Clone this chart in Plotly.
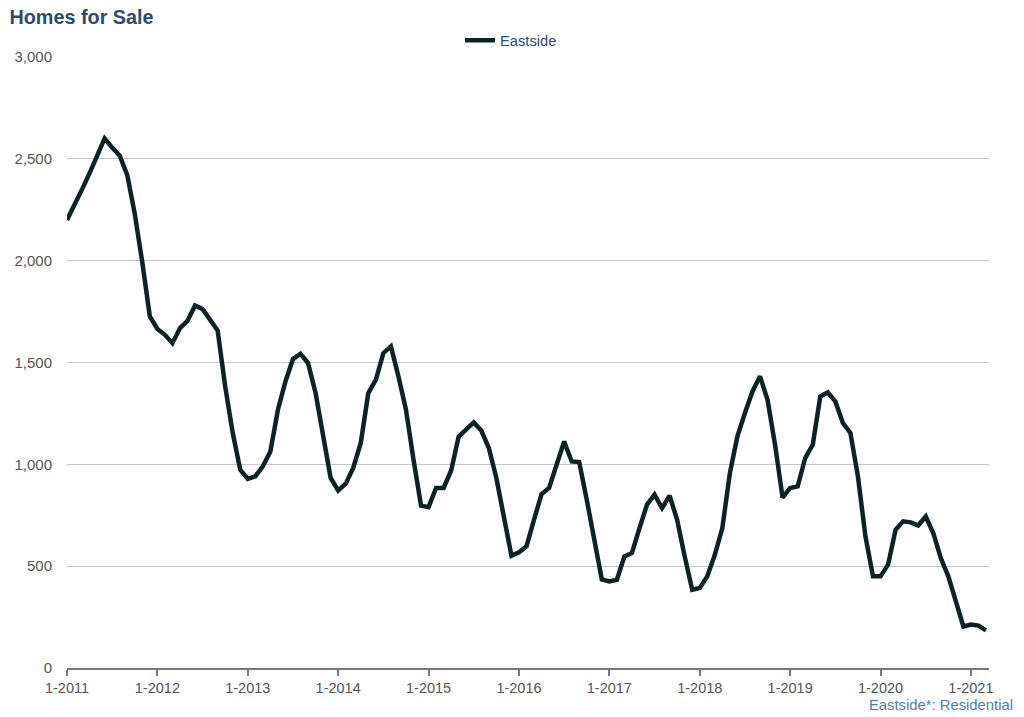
import plotly.graph_objects as go

years = list(range(2011, 2022))
tick_labels = [f"1-{y}" for y in years]

# Monthly values, Jan 2011 .. Mar 2021
values = [
    2200, 2270, 2350, 2430, 2515, 2600, 2555, 2515, 2420, 2230, 1990, 1726,
    1665, 1636, 1595, 1669, 1705, 1780, 1762, 1710, 1657, 1382, 1155, 973,
    929, 941, 990, 1063, 1268, 1407, 1517, 1543, 1497, 1350, 1154, 933,
    872, 905, 982, 1105, 1350, 1415, 1546, 1579, 1432, 1268, 1023, 797,
    790, 884, 884, 970, 1137, 1173, 1206, 1166, 1080, 933, 728, 551,
    568, 597, 728, 854, 884, 1006, 1112, 1014, 1011, 826, 630, 435,
    425, 433, 548, 565, 687, 802, 851, 785, 846, 728, 548, 384,
    393, 450, 556, 687, 957, 1137, 1252, 1358, 1432, 1317, 1096, 836,
    884, 892, 1031, 1096, 1333, 1353, 1309, 1203, 1154, 941, 646, 450,
    450, 507, 679, 720, 715, 700, 744, 663, 540, 450, 327, 204,
    213, 208, 185,
]
months = list(range(len(values)))

W, H = 1024, 717

fig = go.Figure()
fig.add_trace(go.Scatter(
    x=months, y=values, mode="lines", name="Eastside",
    line=dict(color="#0b2227", width=4.5),
))

fig.update_layout(
    width=W, height=H,
    paper_bgcolor="white", plot_bgcolor="white",
    margin=dict(l=67, r=35, t=57, b=49, autoexpand=False),
    font=dict(family="Liberation Sans, Arial, sans-serif", size=15, color="#555555"),
    title=dict(text="<b>Homes for Sale</b>", xref="container", x=9.5 / W, xanchor="left",
               yref="container", y=1 - 16.7 / H, yanchor="middle",
               font=dict(size=19.8, color="#2b4c6f")),
    showlegend=True,
    legend=dict(orientation="h", xref="container", x=460 / W, xanchor="left",
                yref="container", y=1 - 40.7 / H, yanchor="middle",
                font=dict(size=14.7, color="#2b4c6f"), bgcolor="rgba(0,0,0,0)"),
    annotations=[dict(text="Eastside*: Residential", xref="paper", yref="paper",
                      x=1.028, xanchor="right", y=-0.060, yanchor="middle", showarrow=False,
                      font=dict(size=14.8, color="#4f7db5"))],
)
fig.update_xaxes(
    range=[0, 122.4], tickvals=[12 * i for i in range(len(years))], ticktext=tick_labels,
    showgrid=False, zeroline=False, showline=True, linecolor="#777777", linewidth=2,
    ticks="outside", ticklen=6, tickcolor="#777777", tickwidth=2,
    ticklabelstandoff=0, tickfont=dict(size=14.5, color="#555555"),
)
fig.update_yaxes(
    range=[0, 3000], dtick=500, tickformat=",d",
    showgrid=True, gridcolor="#c8c8c8", gridwidth=1, zeroline=False, showline=False,
    ticks="", ticklabelstandoff=14, tickfont=dict(size=15, color="#555555"),
)

fig.write_html(
    "out.html",
    config={"displayModeBar": False},
    post_script="document.body.style.margin='0';document.body.style.overflow='hidden';",
)
